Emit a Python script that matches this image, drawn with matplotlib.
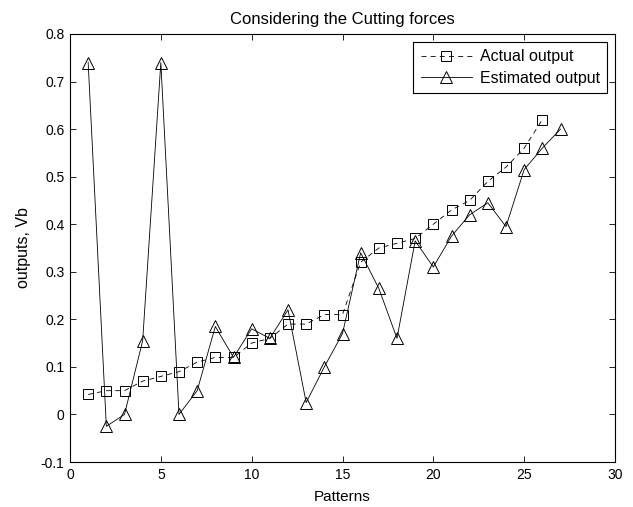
import numpy as np
import matplotlib
matplotlib.use("Agg")
import matplotlib.pyplot as plt

plt.rcParams['font.family'] = ['Liberation Sans', 'DejaVu Sans']

# values
actual = [0.042, 0.05, 0.05, 0.07, 0.08, 0.09, 0.11, 0.12, 0.12, 0.15,
          0.16, 0.19, 0.19, 0.21, 0.21, 0.32, 0.35, 0.36, 0.37, 0.40,
          0.43, 0.45, 0.49, 0.52, 0.56, 0.62]
estimated = [0.74, -0.025, 0.0, 0.155, 0.74, 0.0, 0.05, 0.185, 0.12, 0.18,
             0.16, 0.22, 0.025, 0.10, 0.17, 0.34, 0.265, 0.16, 0.365, 0.31,
             0.375, 0.42, 0.445, 0.395, 0.515, 0.56, 0.60]
x_act = np.arange(1, len(actual) + 1)
x_est = np.arange(1, len(estimated) + 1)

fig = plt.figure(figsize=(6.33, 5.07), dpi=100)
ax = fig.add_axes([70 / 633, 1 - 462 / 507, 545 / 633, 428 / 507])

ax.plot(x_act, actual, linestyle=(0, (6, 5)), color='black', linewidth=0.6,
        marker='s', markersize=7, markerfacecolor='none', markeredgewidth=0.7,
        label='Actual output')
ax.plot(x_est, estimated, linestyle='-', color='black', linewidth=0.6,
        marker='^', markersize=8.5, markerfacecolor='none', markeredgewidth=0.7,
        label='Estimated output')

ax.set_xlim(0, 30)
ax.set_ylim(-0.1, 0.8)
ax.set_xticks(range(0, 31, 5))
ax.set_yticks(np.round(np.arange(-0.1, 0.81, 0.1), 1))
ax.set_yticklabels(['-0.1', '0', '0.1', '0.2', '0.3', '0.4', '0.5', '0.6', '0.7', '0.8'])
ax.tick_params(direction='in', top=True, right=True, labelsize=10, length=4,
               width=0.6, pad=4)
for s in ax.spines.values():
    s.set_linewidth(0.8)

ax.set_xlabel('Patterns', fontsize=11, labelpad=6)
ax.set_ylabel('outputs, Vb', fontsize=11.5, labelpad=7)
ax.set_title('Considering the Cutting forces', fontsize=12, pad=7)

leg = ax.legend(loc='upper right', fontsize=11.5, fancybox=False, framealpha=1,
                edgecolor='black', borderpad=0.45, handlelength=3.2,
                handletextpad=0.5, labelspacing=0.4, borderaxespad=0.5)
leg.get_frame().set_linewidth(0.8)

fig.savefig('out.png', dpi=100)
